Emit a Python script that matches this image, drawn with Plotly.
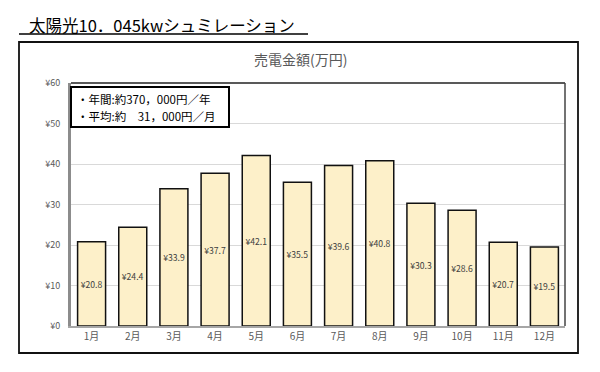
import plotly.graph_objects as go

months = ["1月", "2月", "3月", "4月", "5月", "6月", "7月", "8月", "9月", "10月", "11月", "12月"]
values = [20.8, 24.4, 33.9, 37.7, 42.1, 35.5, 39.6, 40.8, 30.3, 28.6, 20.7, 19.5]
yticks = [0, 10, 20, 30, 40, 50, 60]
ytick_labels = ["¥0", "¥10", "¥20", "¥30", "¥40", "¥50", "¥60"]
labels = ["¥" + f"{v:.1f}" for v in values]

OFF = 8  # page body margin offset
W, H = 600 - OFF, 372 - OFF
L, R, T, B = 71 - OFF, 565 - OFF, 83 - OFF, 326 - OFF  # plot area in figure pixels

def px(x):
    return (x - OFF - L) / (R - L)

def py(y):
    return (B - (y - OFF)) / (B - T)

FONT = "Noto Sans CJK JP"

fig = go.Figure(go.Bar(
    x=months, y=values, text=labels, textposition="inside",
    insidetextanchor="middle", textangle=0,
    textfont=dict(size=10, color="#404040", family=FONT),
    marker=dict(color="#FDF0C9", line=dict(color="#111111", width=1.5)),
    width=0.68, hoverinfo="skip",
))

fig.update_layout(
    width=W, height=H,
    margin=dict(l=L, r=W - R, t=T, b=H - B),
    paper_bgcolor="white", plot_bgcolor="white",
    showlegend=False,
    font=dict(family=FONT, color="#595959"),
    uniformtext=dict(minsize=8, mode="show"),
    xaxis=dict(showgrid=False, showline=True, linecolor="#A6A6A6", linewidth=1.5,
               ticks="", tickfont=dict(size=10, color="#595959"), fixedrange=True),
    yaxis=dict(range=[0, 60], tickvals=yticks, ticktext=ytick_labels,
               showgrid=True, gridcolor="#D9D9D9", gridwidth=1,
               showline=True, linecolor="#8C8C8C", linewidth=3,
               zeroline=False, ticks="", ticklabelstandoff=6,
               tickfont=dict(size=9, color="#595959"), fixedrange=True),
)

# plot-area top/right border
fig.add_shape(type="line", xref="paper", yref="paper", x0=0, x1=1, y0=1, y1=1,
              line=dict(color="#222222", width=1.5))
fig.add_shape(type="line", xref="paper", yref="paper", x0=1, x1=1, y0=0, y1=1,
              line=dict(color="#444444", width=1.5))

# outer chart frame
fig.add_shape(type="rect", xref="paper", yref="paper",
              x0=px(19), x1=px(578), y0=py(353), y1=py(42),
              line=dict(color="#111111", width=1.8), layer="below")

# main title with underline
fig.add_annotation(text="太陽光10．045kwシュミレーション", xref="paper", yref="paper",
                   x=px(162), y=py(25), xanchor="center", yanchor="middle",
                   showarrow=False, font=dict(size=16.5, color="#000000", family=FONT))
fig.add_shape(type="line", xref="paper", yref="paper", x0=px(19), x1=px(308),
              y0=py(34), y1=py(34), line=dict(color="#000000", width=1.5))

# chart title
fig.add_annotation(text="売電金額(万円)", xref="paper", yref="paper",
                   x=px(300), y=py(59), xanchor="center", yanchor="middle",
                   showarrow=False, font=dict(size=14, color="#595959", family=FONT))

# info box
fig.add_shape(type="rect", xref="paper", yref="paper",
              x0=px(71), x1=px(229), y0=py(127), y1=py(87),
              line=dict(color="#000000", width=2), fillcolor="white")
fig.add_annotation(text="・年間:約370，000円／年",
                   xref="paper", yref="paper", x=px(76), y=py(98.5),
                   xanchor="left", yanchor="middle", align="left", showarrow=False,
                   borderpad=0, font=dict(size=11.5, color="#000000", family=FONT))
fig.add_annotation(text="・平均:約　31，000円／月",
                   xref="paper", yref="paper", x=px(76), y=py(115.5),
                   xanchor="left", yanchor="middle", align="left", showarrow=False,
                   borderpad=0, font=dict(size=11.5, color="#000000", family=FONT))

fig.write_html("out.html")
